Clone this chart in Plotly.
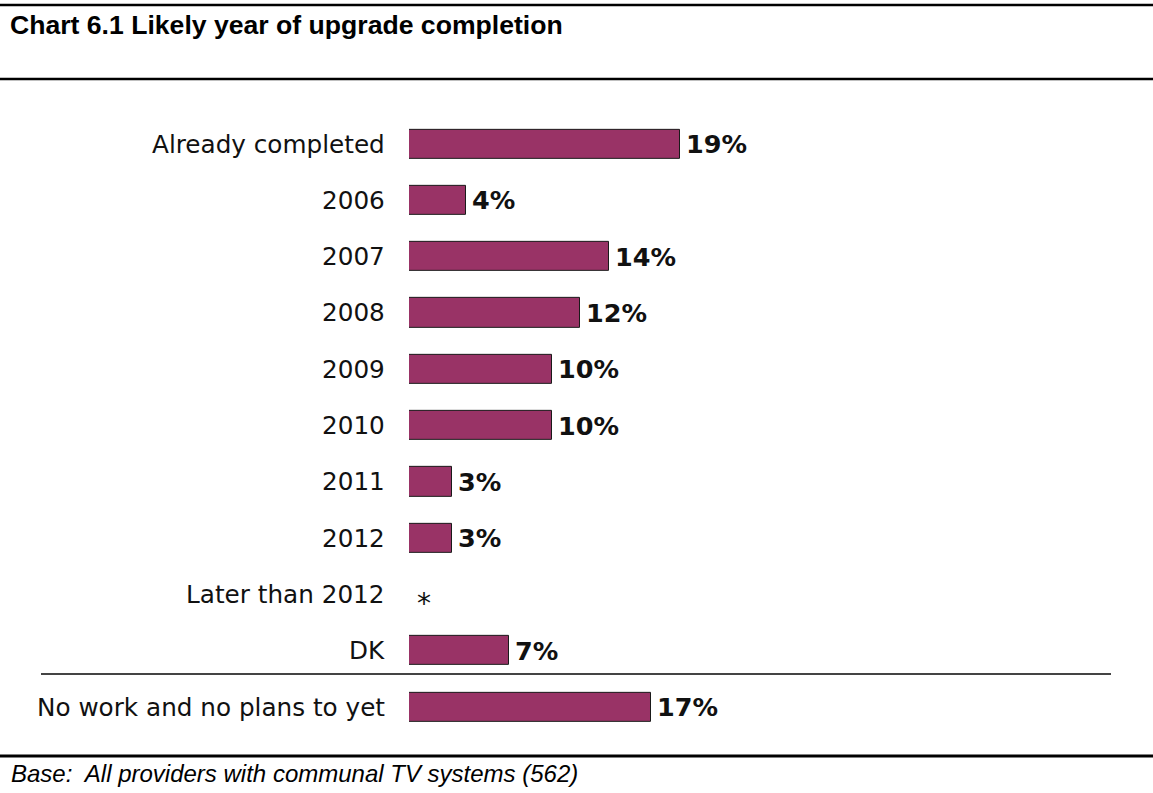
import plotly.graph_objects as go

# Survey answers: likely year of upgrade completion
categories = ["Already completed", "2006", "2007", "2008", "2009", "2010",
              "2011", "2012", "Later than 2012", "DK", "No work and no plans to yet"]
values = [19, 4, 14, 12, 10, 10, 3, 3, 0, 7, 17]
value_labels = ["19%", "4%", "14%", "12%", "10%", "10%", "3%", "3%", "*", "7%", "17%"]

title_text = "Chart 6.1 Likely year of upgrade completion"
base_text = "Base:  All providers with communal TV systems (562)"

W, H = 1153, 793
BAR_COLOR = "#993366"
LABEL_FONT = "DejaVu Sans"

# plot area in pixels
x0_px, px_per_unit, x_max = 409, 14.26, 48
top_px, row_px = 115.85, 56.3
n = len(categories)
x1_px = x0_px + px_per_unit * x_max
bottom_px = top_px + row_px * n

pos = list(range(n))

fig = go.Figure()
fig.add_trace(go.Bar(
    x=values, y=pos, orientation="h",
    marker=dict(color=BAR_COLOR, line=dict(color="#1a1a1a", width=1)),
    width=0.52, hoverinfo="skip", showlegend=False,
))

annotations = []
for i, (cat, v, lab) in enumerate(zip(categories, values, value_labels)):
    annotations.append(dict(
        x=0, y=i, xref="x", yref="y", text=cat, showarrow=False,
        xanchor="right", yanchor="middle", xshift=-22,
        font=dict(family=LABEL_FONT, size=24.7, color="#111"),
    ))
    if lab == "*":
        annotations.append(dict(
            x=v, y=i, xref="x", yref="y", text=lab, showarrow=False,
            xanchor="left", yanchor="middle", xshift=6, yshift=-9,
            font=dict(family=LABEL_FONT, size=28, color="#111"),
        ))
    else:
        annotations.append(dict(
            x=v, y=i, xref="x", yref="y", text="<b>" + lab + "</b>", showarrow=False,
            xanchor="left", yanchor="middle", xshift=4,
            font=dict(family=LABEL_FONT, size=25.5, color="#111"),
        ))

# title and footer text
annotations.append(dict(
    x=8 / W, y=1 - 25 / H, xref="paper", yref="paper", text="<b>" + title_text + "</b>",
    showarrow=False, xanchor="left", yanchor="middle",
    font=dict(family="Liberation Sans, Arial", size=26.6, color="#000"),
))
annotations.append(dict(
    x=9 / W, y=1 - 773 / H, xref="paper", yref="paper", text="<i>" + base_text + "</i>",
    showarrow=False, xanchor="left", yanchor="middle",
    font=dict(family="Liberation Sans, Arial", size=24, color="#000"),
))

def hline(y_px, xa, xb, width, color):
    return dict(type="line", xref="paper", yref="paper",
                x0=xa / W, x1=xb / W, y0=1 - y_px / H, y1=1 - y_px / H,
                line=dict(color=color, width=width))

shapes = [
    hline(5, 0, W, 2.5, "#000"),
    hline(79, 0, W, 2.5, "#000"),
    hline(674, 41, 1111, 2, "#444"),
    hline(756, 0, W, 3, "#000"),
]

fig.update_layout(
    width=W, height=H, autosize=False,
    margin=dict(l=0, r=0, t=0, b=0),
    paper_bgcolor="white", plot_bgcolor="white",
    xaxis=dict(range=[0, x_max], domain=[x0_px / W, x1_px / W],
               visible=False, fixedrange=True),
    yaxis=dict(range=[n - 0.5, -0.5], domain=[1 - bottom_px / H, 1 - top_px / H],
               visible=False, fixedrange=True),
    annotations=annotations, shapes=shapes, bargap=0,
)

fig.write_html("out.html")
